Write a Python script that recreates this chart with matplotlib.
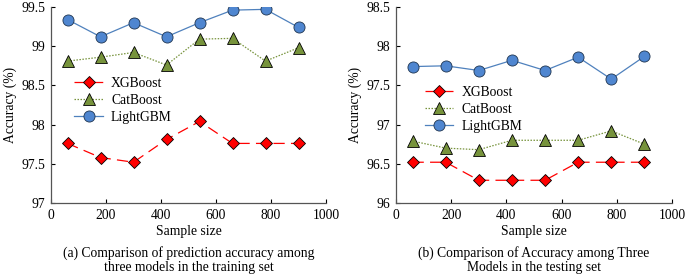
import matplotlib
matplotlib.use("Agg")
import matplotlib.pyplot as plt

plt.rcParams['font.family'] = ['Liberation Serif', 'DejaVu Serif']

sample_size = [60, 180, 300, 420, 540, 660, 780, 900]

train_xgb = [97.76, 97.58, 97.52, 97.81, 98.04, 97.76, 97.76, 97.76]
train_cat = [98.81, 98.86, 98.92, 98.76, 99.09, 99.10, 98.81, 98.98]
train_lgbm = [99.34, 99.12, 99.30, 99.12, 99.30, 99.46, 99.47, 99.24]

test_xgb = [96.52, 96.52, 96.29, 96.29, 96.29, 96.52, 96.52, 96.52]
test_cat = [96.79, 96.70, 96.68, 96.80, 96.80, 96.80, 96.92, 96.75]
test_lgbm = [97.74, 97.75, 97.69, 97.82, 97.69, 97.86, 97.58, 97.87]

x_ticks = [0, 200, 400, 600, 800, 1000]
train_yticks = [97, 97.5, 98, 98.5, 99, 99.5]
test_yticks = [96, 96.5, 97, 97.5, 98, 98.5]

xlabel = "Sample size"
ylabel = "Accuracy (%)"
cap_a = "(a) Comparison of prediction accuracy among\nthree models in the training set"
cap_b = "(b) Comparison of Accuracy among Three\nModels in the testing set"

W, H = 685, 274
fig = plt.figure(figsize=(W / 100, H / 100), dpi=100)

def box(l, r, t, b):
    return [l / W, 1 - b / H, (r - l) / W, (b - t) / H]

ax1 = fig.add_axes(box(51, 326, 7, 203))
ax2 = fig.add_axes(box(396, 672, 7, 203))

fs = 9.8

def draw(ax, xgb, cat, lgbm, yticks, leg_anchor):
    ax.plot(sample_size, xgb, color='#FF0000', lw=0.9, ls=(0, (9, 5)),
            marker='D', ms=6.5, mfc='#FF0000', mec='black', mew=0.6, label='XGBoost')
    ax.plot(sample_size, cat, color='#77933C', lw=0.9, ls=(0, (1.2, 1.2)),
            marker='^', ms=8.5, mfc='#77933C', mec='black', mew=0.6, label='CatBoost')
    ax.plot(sample_size, lgbm, color='#4F81BD', lw=0.9, ls='-',
            marker='o', ms=8, mfc='#4F86D0', mec='#1F3550', mew=0.6, label='LightGBM')
    ax.set_xlim(0, 1000)
    ax.set_ylim(yticks[0], yticks[-1])
    ax.set_xticks(x_ticks)
    ax.set_yticks(yticks)
    ax.set_yticklabels([f"{v:g}" for v in yticks])
    ax.tick_params(direction='in', length=3, width=0.8, labelsize=fs, pad=4, colors='black')
    for s in ['top', 'right']:
        ax.spines[s].set_visible(False)
    for s in ['left', 'bottom']:
        ax.spines[s].set_color('#555555')
        ax.spines[s].set_linewidth(0.9)
    ax.set_ylabel(ylabel, fontsize=fs, labelpad=3)
    ax.legend(loc='upper left', bbox_to_anchor=leg_anchor, frameon=False,
              fontsize=fs, handlelength=2.1, handletextpad=0.6, labelspacing=0.28,
              borderaxespad=0)

draw(ax1, train_xgb, train_cat, train_lgbm, train_yticks, (0.065, 0.67))
draw(ax2, test_xgb, test_cat, test_lgbm, test_yticks, (0.085, 0.625))

for cx, cap in [((51 + 326) / 2, cap_a), ((396 + 672) / 2, cap_b)]:
    fig.text(cx / W, 1 - 232 / H, xlabel, ha='center', va='center', fontsize=fs)
    fig.text(cx / W, 1 - 260 / H, cap, ha='center', va='center', fontsize=fs,
             linespacing=1.12)

fig.savefig("out.png", dpi=100)
